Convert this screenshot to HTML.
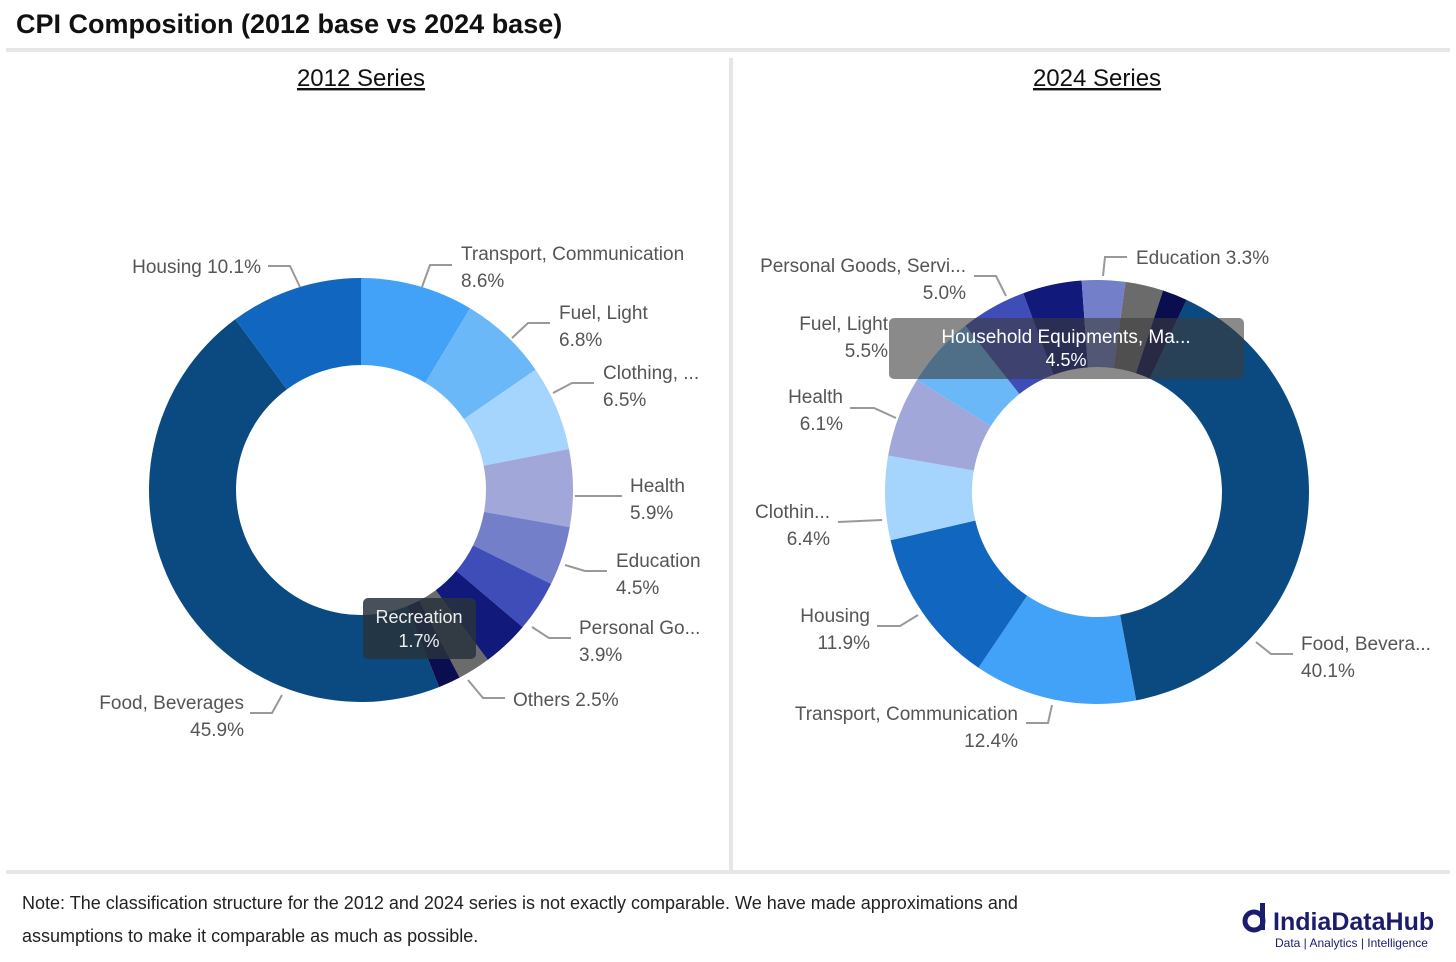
<!DOCTYPE html>
<html><head><meta charset="utf-8"><style>
body{margin:0;width:1456px;height:962px;background:#fff;overflow:hidden;font-family:"Liberation Sans",sans-serif;}
svg{position:absolute;left:0;top:0}
</style></head><body>
<svg id="chart" width="1456" height="962">
<text x="16" y="33" font-size="27" font-weight="bold" fill="#111">CPI Composition (2012 base vs 2024 base)</text>
<rect x="6" y="48" width="1444" height="4" fill="#e6e6e6"/>
<rect x="729" y="58" width="4" height="812" fill="#e6e6e6"/>
<rect x="6" y="870" width="1444" height="4" fill="#e6e6e6"/>
<text x="361" y="86" font-size="24" text-anchor="middle" text-decoration="underline" fill="#111">2012 Series</text>
<text x="1097" y="86" font-size="24" text-anchor="middle" text-decoration="underline" fill="#111">2024 Series</text>
<g id="leftDonut"></g><g id="rightDonut"></g><g id="labels"></g>
<rect x="363" y="598" width="113" height="61" rx="5" fill="rgba(40,50,60,0.85)"/>
<text x="419" y="623" font-size="18" text-anchor="middle" fill="#eee">Recreation</text>
<text x="419" y="647" font-size="18" text-anchor="middle" fill="#eee">1.7%</text>
<rect x="889" y="318" width="355" height="61" rx="5" fill="rgba(60,60,60,0.6)"/>
<text x="1066" y="343" font-size="19" text-anchor="middle" fill="#fff">Household Equipments, Ma...</text>
<text x="1066" y="366" font-size="18" text-anchor="middle" fill="#fff">4.5%</text>
<text x="22" y="909" font-size="18" fill="#222">Note: The classification structure for the 2012 and 2024 series is not exactly comparable. We have made approximations and</text>
<text x="22" y="942" font-size="18" fill="#222">assumptions to make it comparable as much as possible.</text>
<g>
<circle cx="1254" cy="921" r="9" fill="none" stroke="#1c1c6e" stroke-width="5"/><rect x="1260" y="903" width="5" height="27" fill="#1c1c6e"/>
<text x="1273" y="930" font-size="25" font-weight="bold" fill="#1c1c6e">IndiaDataHub</text>
<text x="1275" y="947" font-size="12" fill="#1c1c6e">Data | Analytics | Intelligence</text></g>
</svg>
<script>
const leftCats=["Transport","Fuel","Clothing","Health","Education","Personal","Household","Others","Recreation","Food","Housing"];
const leftVals=[8.6,6.8,6.5,5.9,4.5,3.9,3.6,2.5,1.7,45.9,10.1];
const rightCats=["Food","Transport","Housing","Clothing","Health","Fuel","Personal","Household","Education","Others","Recreation"];
const rightVals=[40.1,12.4,11.9,6.4,6.1,5.5,5.0,4.5,3.3,2.9,1.9];
const colors={Food:"#0B4A80",Housing:"#1167BF",Transport:"#42A2F7",Fuel:"#6BB8F9",Clothing:"#A5D5FD",Health:"#A1A7D9",Education:"#7380C9",Personal:"#3F4DB8",Household:"#11197A",Others:"#6B6B6B",Recreation:"#0A0E4F"};
const NS="http://www.w3.org/2000/svg";
function pt(cx,cy,r,a){const t=a*Math.PI/180;return [cx+r*Math.sin(t),cy-r*Math.cos(t)];}
function donut(gid,cats,vals,cx,cy,R,r,start,prefix){
 const g=document.getElementById(gid);const tot=vals.reduce((a,b)=>a+b,0);let a=start;
 cats.forEach((c,i)=>{const sw=vals[i]/tot*360;const a2=a+sw;const lg=sw>180?1:0;
  const p1=pt(cx,cy,R,a),p2=pt(cx,cy,R,a2),p3=pt(cx,cy,r,a2),p4=pt(cx,cy,r,a);
  const p=document.createElementNS(NS,"path");
  p.setAttribute("d",`M${p1}A${R},${R} 0 ${lg} 1 ${p2}L${p3}A${r},${r} 0 ${lg} 0 ${p4}Z`);
  p.setAttribute("fill",colors[c]);
  
  
  g.appendChild(p);a=a2;});
}
donut("leftDonut",leftCats,leftVals,361,490,212,125,0,"2012");
donut("rightDonut",rightCats,rightVals,1097,492,212,125,25,"2024");
const labels=[
["Housing 10.1%",null,261,266,"end","268,266 290,266 300,287","label-2012-housing"],
["Transport, Communication","8.6%",461,253,"start","452,265 430,265 422,287","label-2012-transport"],
["Fuel, Light","6.8%",559,312,"start","550,323 528,323 512,338","label-2012-fuel"],
["Clothing, ...","6.5%",603,372,"start","594,383 572,383 553,393","label-2012-clothing"],
["Health","5.9%",630,485,"start","622,496 575,496","label-2012-health"],
["Education","4.5%",616,560,"start","607,571 585,571 565,565","label-2012-education"],
["Personal Go...","3.9%",579,627,"start","571,638 549,638 532,627","label-2012-personal"],
["Others 2.5%",null,513,699,"start","505,698 483,698 468,680","label-2012-others"],
["Food, Beverages","45.9%",244,702,"end","250,713 272,713 282,695","label-2012-food"],
["Personal Goods, Servi...","5.0%",966,265,"end","974,276 996,276 1006,296","label-2024-personal"],
["Education 3.3%",null,1136,257,"start","1127,257 1105,257 1103,276","label-2024-education"],
["Fuel, Light","5.5%",888,323,"end","","label-2024-fuel"],
["Health","6.1%",843,396,"end","850,408 874,408 896,418","label-2024-health"],
["Clothin...","6.4%",830,511,"end","838,522 882,520","label-2024-clothing"],
["Housing","11.9%",870,615,"end","877,626 900,626 918,615","label-2024-housing"],
["Transport, Communication","12.4%",1018,713,"end","1026,723 1048,723 1052,705","label-2024-transport"],
["Food, Bevera...","40.1%",1301,643,"start","1293,654 1271,654 1256,642","label-2024-food"]];
const lg=document.getElementById("labels");
labels.forEach(l=>{
 if(l[5]){const pl=document.createElementNS(NS,"polyline");pl.setAttribute("points",l[5]);pl.setAttribute("fill","none");pl.setAttribute("stroke","#999");pl.setAttribute("stroke-width","2");
 
 
 lg.appendChild(pl);}
 const t=document.createElementNS(NS,"text");t.setAttribute("x",l[2]);t.setAttribute("y",l[3]+7);t.setAttribute("font-size","19");t.setAttribute("fill","#555");t.setAttribute("text-anchor",l[4]);t.textContent=l[0];
 
 
 lg.appendChild(t);
 if(l[1]){const v=document.createElementNS(NS,"text");v.setAttribute("x",l[2]);v.setAttribute("y",l[3]+34);v.setAttribute("font-size","19");v.setAttribute("fill","#555");v.setAttribute("text-anchor",l[4]);v.textContent=l[1];
 
 
 lg.appendChild(v);}
});
</script>
</body></html>
